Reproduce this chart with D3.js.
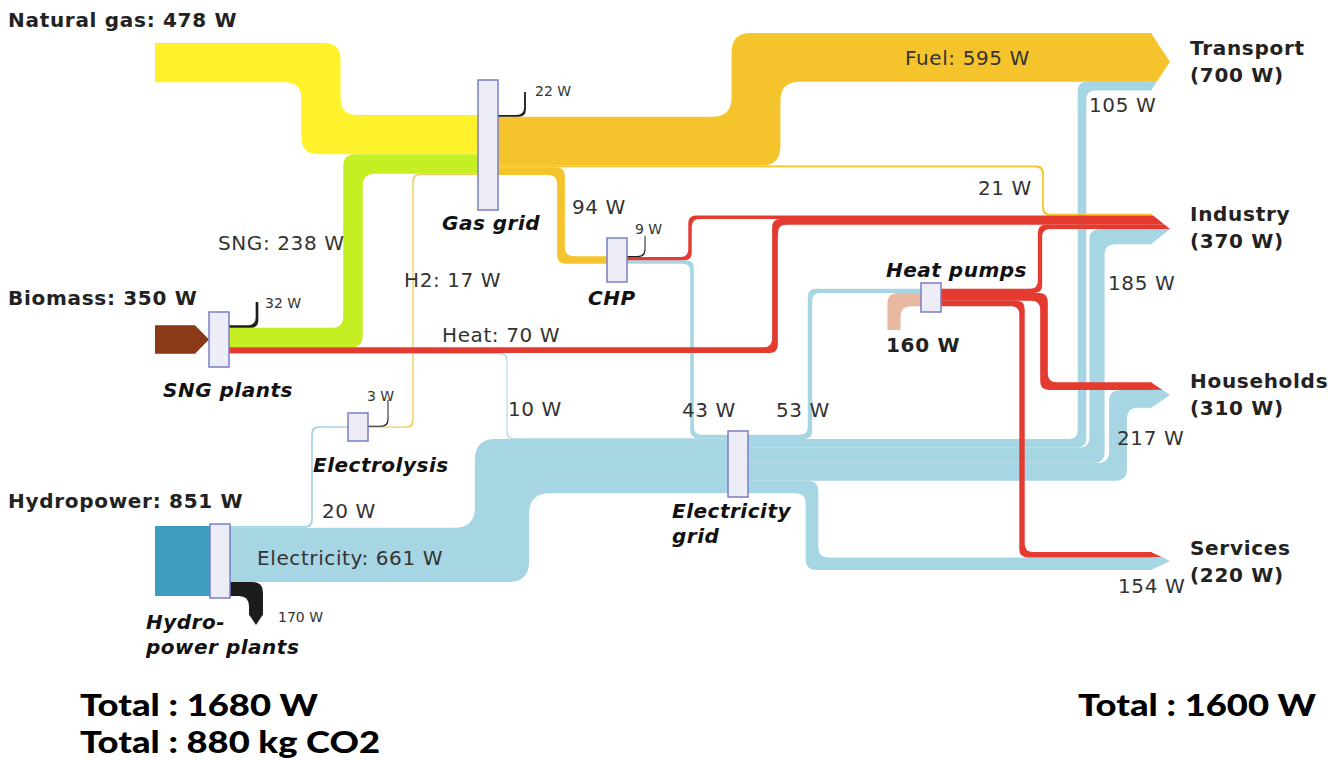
<!DOCTYPE html>
<html>
<head>
<meta charset="utf-8">
<script src="https://cdn.jsdelivr.net/npm/d3@7"></script>
<style>
  body { margin: 0; background: #fff; }
  text { font-family: "DejaVu Sans", Verdana, sans-serif; fill: #222; }
  .src { font-size: 20px; font-weight: bold; letter-spacing: 0.7px; }
  .node-label { font-size: 20px; font-weight: bold; font-style: italic; fill: #111; letter-spacing: 0.5px; }
  .flow-label { font-size: 20px; fill: #333; letter-spacing: 0.6px; }
  .loss-label { font-size: 14px; fill: #333; }
  .total { font-family: Lato, "Open Sans", sans-serif; font-size: 30px; font-weight: 900; fill: #000; }
</style>
</head>
<body>
<svg id="chart" width="1344" height="760"></svg>
<script>
// ---- data (W) ----
var sourceNames = ["Natural gas", "Biomass", "Hydropower"];
var sourceValues = [478, 350, 851];

var sinkNames = ["Transport", "Industry", "Households", "Services"];
var sinkValues = [700, 370, 310, 220];

// flows, listed top-to-bottom so every node stacks them in this order
var linkIds = ["ng", "lossGas", "fuel", "gasInd", "gasChp", "lossSng", "sng", "lossEly", "h2",
    "lossChp", "heatChp", "heatSng", "elChp", "elSng", "el20", "el661", "lossHydro",
    "elHp", "amb", "hpInd", "hpHh", "hpSv", "elTr", "elInd", "elHh", "elSv", "bio", "hydro"];
var linkSources = ["Natural gas", "Gas grid", "Gas grid", "Gas grid", "Gas grid", "SNG plants", "SNG plants", "Electrolysis", "Electrolysis",
    "CHP", "CHP", "SNG plants", "CHP", "SNG plants", "Hydro plants", "Hydro plants", "Hydro plants",
    "Electricity grid", "Ambient", "Heat pumps", "Heat pumps", "Heat pumps", "Electricity grid", "Electricity grid", "Electricity grid", "Electricity grid", "Biomass", "Hydropower"];
var linkTargets = ["Gas grid", "Loss", "Transport", "Industry", "CHP", "Loss", "Gas grid", "Loss", "Gas grid",
    "Loss", "Industry", "Industry", "Electricity grid", "Electricity grid", "Electrolysis", "Electricity grid", "Loss",
    "Heat pumps", "Heat pumps", "Industry", "Households", "Services", "Transport", "Industry", "Households", "Services", "SNG plants", "Hydro plants"];
var linkValues = [478, 22, 595, 21, 94, 32, 238, 3, 17,
    9, 42, 70, 43, 10, 20, 661, 170,
    53, 160, 52, 93, 66, 105, 185, 217, 154, 350, 851];
var linkCarriers = ["gas", "loss", "fuel", "fuel", "fuel", "loss", "sng", "loss", "h2",
    "loss", "heat", "heat", "elec", "elec", "elec", "elec", "loss",
    "elec", "ambient", "heat", "heat", "heat", "elec", "elec", "elec", "elec", "biomass", "hydro"];

var totals = ["Total : 1680 W", "Total : 880 kg CO2", "Total : 1600 W"];

// ---- layout ----
var carrierColor = {
    gas: "#fff22c", fuel: "#f5c42c", sng: "#c6ef23", h2: "#f2cd5c", heat: "#e43a2f",
    elec: "#a6d5e4", hydro: "#3d9cc0", biomass: "#8b3a18", ambient: "#e8b9a0", loss: "#1c1c1c"
};
var drawOrder = ["elec", "hydro", "gas", "fuel", "sng", "h2", "ambient", "biomass", "loss", "heat"];

// x, y, width, height of the converter boxes
var nodeBox = {
    "Gas grid": [478, 80, 20, 130],
    "SNG plants": [209, 312, 20, 55],
    "Electrolysis": [348, 413, 20, 28],
    "Hydro plants": [210, 524, 20, 74],
    "CHP": [607, 238, 20, 44],
    "Electricity grid": [728, 431, 20, 66],
    "Heat pumps": [921, 283, 20, 29]
};
var sourceAnchor = { "Natural gas": [155, 62.6], "Biomass": [155, null], "Hydropower": [155, null], "Ambient": [894, 330] };
var sinkX = 1152, arrowLen = 18;
var sinkCy = { "Transport": 61.7, "Industry": 229, "Households": 395, "Services": 561 };

var lanes = {
    ng: 321, sng: 353, heatSng: 775, elSng: 507, lossSng: 257, el20: 312, el661: 502, lossHydro: 256,
    h2: 413, lossEly: 388, fuel: 756, gasInd: 1043, gasChp: 561, lossGas: 525, heatChp: 690, elChp: 692,
    lossChp: 645, elHp: 810, elTr: 1082, elInd: 1097, elHh: 1118, elSv: 812, amb: 894,
    hpInd: 1040, hpHh: 1044, hpSv: 1022
};
var lossEnds = { lossSng: 302, lossHydro: 615, lossEly: 400, lossGas: 92, lossChp: 236 };

var k = d3.scaleLinear().domain([0, 1000]).range([0, 82]);

var svg = d3.select("#chart");

var links = linkIds.map(function (id, i) {
    return { id: id, source: linkSources[i], target: linkTargets[i], value: linkValues[i],
        carrier: linkCarriers[i], w: k(linkValues[i]) };
});

function outAnchor(name) {
    if (nodeBox[name]) { var b = nodeBox[name]; return [b[0] + b[2], b[1] + b[3] / 2]; }
    return sourceAnchor[name];
}
function inAnchor(name) {
    if (nodeBox[name]) { var b = nodeBox[name]; return [b[0], b[1] + b[3] / 2]; }
    return [sinkX, sinkCy[name]];
}
// biomass / hydropower feed straight into their plants
sourceAnchor["Biomass"][1] = outAnchor("SNG plants")[1];
sourceAnchor["Hydropower"][1] = outAnchor("Hydro plants")[1];

var outTot = d3.rollup(links, function (v) { return d3.sum(v, function (d) { return d.w; }); }, function (d) { return d.source; });
var inTot = d3.rollup(links, function (v) { return d3.sum(v, function (d) { return d.w; }); }, function (d) { return d.target; });
var outCur = new Map(), inCur = new Map();
links.forEach(function (d) {
    var a = outAnchor(d.source);
    var top = outCur.has(d.source) ? outCur.get(d.source) : a[1] - outTot.get(d.source) / 2;
    d.sy = top + d.w / 2; outCur.set(d.source, top + d.w);
    if (d.target !== "Loss") {
        var b = inAnchor(d.target);
        var t = inCur.has(d.target) ? inCur.get(d.target) : b[1] - inTot.get(d.target) / 2;
        d.ty = t + d.w / 2; inCur.set(d.target, t + d.w);
    }
});

function route(d) {
    var a = outAnchor(d.source), b = d.target === "Loss" ? null : inAnchor(d.target);
    var lane = lanes[d.id];
    if (d.target === "Loss") return [[a[0], d.sy], [lane, d.sy], [lane, lossEnds[d.id]]];
    if (d.source === "Ambient") return [[lane, a[1]], [lane, d.ty], [b[0], d.ty]];
    if (lane == null) return [[a[0], d.sy], [b[0], d.ty]];
    return [[a[0], d.sy], [lane, d.sy], [lane, d.ty], [b[0], d.ty]];
}

function dist(a, b) { return Math.hypot(b[0] - a[0], b[1] - a[1]); }

function rounded(p, r, first) {
    var s = (first ? "M" : "L") + p[0][0] + "," + p[0][1];
    for (var i = 1; i < p.length - 1; i++) {
        var a = p[i - 1], b = p[i], c = p[i + 1];
        var l1 = dist(a, b), l2 = dist(b, c);
        var rr = Math.min(r, l1 * (i === 1 ? 0.9 : 0.5), l2 * (i === p.length - 2 ? 0.9 : 0.5));
        var p1 = [b[0] + (a[0] - b[0]) / l1 * rr, b[1] + (a[1] - b[1]) / l1 * rr];
        var p2 = [b[0] + (c[0] - b[0]) / l2 * rr, b[1] + (c[1] - b[1]) / l2 * rr];
        s += "L" + p1 + "Q" + b + " " + p2;
    }
    var e = p[p.length - 1];
    return s + "L" + e[0] + "," + e[1];
}

function bandPath(pts, w) {
    // drop zero-length and collinear points
    pts = pts.filter(function (p, i) { return i === 0 || dist(p, pts[i - 1]) > 0.01; });
    pts = pts.filter(function (p, i) {
        if (i === 0 || i === pts.length - 1) return true;
        var a = pts[i - 1], c = pts[i + 1];
        return Math.abs((p[0] - a[0]) * (c[1] - p[1]) - (p[1] - a[1]) * (c[0] - p[0])) > 0.01;
    });
    var h = Math.max(w, 1) / 2, n = pts.length, dirs = [];
    for (var i = 0; i < n - 1; i++) {
        var l = dist(pts[i], pts[i + 1]);
        dirs.push([(pts[i + 1][0] - pts[i][0]) / l, (pts[i + 1][1] - pts[i][1]) / l]);
    }
    function side(s) {
        return pts.map(function (p, i) {
            var ox = 0, oy = 0;
            if (i > 0) { ox += -dirs[i - 1][1]; oy += dirs[i - 1][0]; }
            if (i < n - 1) { ox += -dirs[i][1]; oy += dirs[i][0]; }
            return [p[0] + s * h * ox, p[1] + s * h * oy];
        });
    }
    var r = 7 + w * 0.25;
    return rounded(side(1), r, true) + rounded(side(-1).reverse(), r, false) + "Z";
}

var gFlows = svg.append("g");
var sorted = links.slice().sort(function (a, b) { return drawOrder.indexOf(a.carrier) - drawOrder.indexOf(b.carrier); });

sorted.forEach(function (d) {
    var col = carrierColor[d.carrier];
    if (d.id === "bio") {
        var a = outAnchor(d.source), x1 = nodeBox["SNG plants"][0], h = d.w / 2;
        gFlows.append("path").attr("fill", col)
            .attr("d", d3.line()([[a[0], d.sy - h], [x1 - 14, d.sy - h], [x1, d.sy], [x1 - 14, d.sy + h], [a[0], d.sy + h]]) + "Z");
        return;
    }
    gFlows.append("path").attr("fill", col).attr("d", bandPath(route(d), d.w));
    if (d.id === "lossHydro") {
        var x = lanes[d.id], y = lossEnds[d.id];
        gFlows.append("path").attr("fill", col)
            .attr("d", d3.line()([[x - d.w / 2, y - 0.5], [x + d.w / 2, y - 0.5], [x, y + 10]]) + "Z");
    }
});

// arrow heads at the consumers
sinkNames.forEach(function (name, si) {
    var inc = links.filter(function (d) { return d.target === name; });
    var tot = inTot.get(name), cy = sinkCy[name];
    var id = "clip" + si;
    svg.append("clipPath").attr("id", id).append("path")
        .attr("d", d3.line()([[sinkX - 1, cy - tot / 2], [sinkX + arrowLen, cy], [sinkX - 1, cy + tot / 2]]) + "Z");
    var g = svg.append("g").attr("clip-path", "url(#" + id + ")");
    inc.forEach(function (d) {
        g.append("rect").attr("x", sinkX - 1).attr("y", d.ty - d.w / 2)
            .attr("width", arrowLen + 2).attr("height", d.w).attr("fill", carrierColor[d.carrier]);
    });
});

// converter boxes
svg.append("g").selectAll("rect").data(Object.keys(nodeBox)).join("rect")
    .attr("x", function (d) { return nodeBox[d][0]; })
    .attr("y", function (d) { return nodeBox[d][1]; })
    .attr("width", function (d) { return nodeBox[d][2]; })
    .attr("height", function (d) { return nodeBox[d][3]; })
    .attr("fill", "#ededf7").attr("stroke", "#7c7cc6").attr("stroke-width", 1.5);

// ---- labels ----
var srcLabelPos = [[8, 27], [8, 305], [8, 508]];
sourceNames.forEach(function (n, i) {
    svg.append("text").attr("class", "src").attr("x", srcLabelPos[i][0]).attr("y", srcLabelPos[i][1])
        .text(n + ": " + sourceValues[i] + " W");
});
var sinkLabelY = [55, 221, 388, 555];
sinkNames.forEach(function (n, i) {
    var t = svg.append("text").attr("class", "src").attr("x", 1190).attr("y", sinkLabelY[i]);
    t.append("tspan").attr("x", 1190).text(n);
    t.append("tspan").attr("x", 1190).attr("dy", 27).text("(" + sinkValues[i] + " W)");
});

var nodeLabels = [
    { lines: ["Gas grid"], x: 442, y: 230 },
    { lines: ["CHP"], x: 588, y: 305 },
    { lines: ["SNG plants"], x: 163, y: 397 },
    { lines: ["Electrolysis"], x: 313, y: 472 },
    { lines: ["Hydro-", "power plants"], x: 146, y: 629 },
    { lines: ["Electricity", "grid"], x: 672, y: 518 },
    { lines: ["Heat pumps"], x: 886, y: 277 }
];
nodeLabels.forEach(function (l) {
    var t = svg.append("text").attr("class", "node-label").attr("y", l.y);
    l.lines.forEach(function (s, i) { t.append("tspan").attr("x", l.x).attr("dy", i ? 25 : 0).text(s); });
});

var flowLabels = [
    { id: "fuel", prefix: "Fuel: ", x: 905, y: 65 },
    { id: "sng", prefix: "SNG: ", x: 218, y: 250 },
    { id: "h2", prefix: "H2: ", x: 404, y: 287 },
    { id: "heatSng", prefix: "Heat: ", x: 442, y: 342 },
    { id: "gasChp", prefix: "", x: 572, y: 214 },
    { id: "gasInd", prefix: "", x: 978, y: 195 },
    { id: "elTr", prefix: "", x: 1089, y: 112 },
    { id: "elInd", prefix: "", x: 1108, y: 290 },
    { id: "elSng", prefix: "", x: 508, y: 416 },
    { id: "elChp", prefix: "", x: 682, y: 417 },
    { id: "elHp", prefix: "", x: 776, y: 417 },
    { id: "elHh", prefix: "", x: 1117, y: 445 },
    { id: "elSv", prefix: "", x: 1118, y: 593 },
    { id: "el20", prefix: "", x: 322, y: 518 },
    { id: "el661", prefix: "Electricity: ", x: 257, y: 565 }
];
flowLabels.forEach(function (l) {
    var v = linkValues[linkIds.indexOf(l.id)];
    svg.append("text").attr("class", "flow-label").attr("x", l.x).attr("y", l.y).text(l.prefix + v + " W");
});
svg.append("text").attr("class", "src").attr("x", 886).attr("y", 352)
    .text(linkValues[linkIds.indexOf("amb")] + " W");

var lossLabels = [
    { id: "lossGas", x: 535, y: 96 },
    { id: "lossChp", x: 635, y: 234 },
    { id: "lossSng", x: 265, y: 308 },
    { id: "lossEly", x: 367, y: 401 },
    { id: "lossHydro", x: 278, y: 622 }
];
lossLabels.forEach(function (l) {
    var v = linkValues[linkIds.indexOf(l.id)];
    svg.append("text").attr("class", "loss-label").attr("x", l.x).attr("y", l.y).text(v + " W");
});

// totals, stretched to the width of the original heavy sans
var totalPos = [[80, 716, 238, "start"], [80, 753, 300, "start"], [1078, 716, 238, "start"]];
totals.forEach(function (s, i) {
    svg.append("text").attr("class", "total").attr("x", totalPos[i][0]).attr("y", totalPos[i][1])
        .attr("textLength", totalPos[i][2]).attr("lengthAdjust", "spacingAndGlyphs").text(s);
});
</script>
</body>
</html>
